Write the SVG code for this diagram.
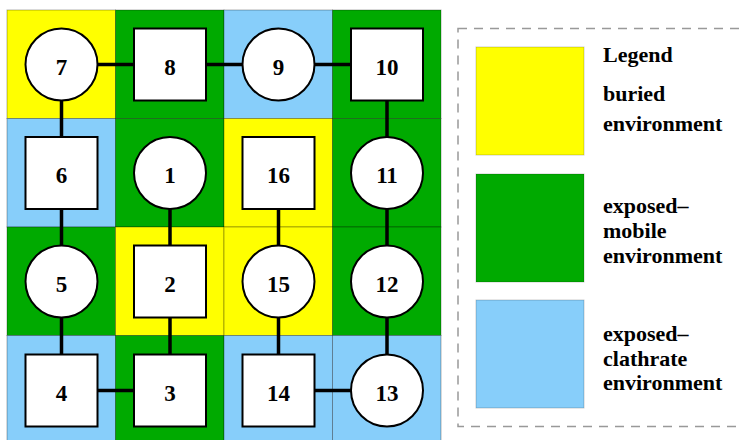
<svg xmlns="http://www.w3.org/2000/svg" width="742" height="440" viewBox="0 0 742 440">
<style>
.cell{stroke:#000;stroke-opacity:0.3;stroke-width:1}
.y{fill:#ffff00}.g{fill:#00aa00}.b{fill:#87cefa}
.node{fill:#fff;stroke:#000;stroke-width:2}
.lbl{font-weight:bold;font-size:23px;text-anchor:middle;fill:#000}
.leg{font-weight:bold;font-size:22px;fill:#000}
.edge{stroke:#000;stroke-width:3.5;fill:none}
.sw{stroke:#000;stroke-opacity:0.2;stroke-width:1}
</style>
<rect width="742" height="440" fill="#fff"/>
<g id="grid">
<rect class="cell y" x="7" y="10" width="108.5" height="108.5"/>
<rect class="cell g" x="115.5" y="10" width="108.5" height="108.5"/>
<rect class="cell b" x="224" y="10" width="108.5" height="108.5"/>
<rect class="cell g" x="332.5" y="10" width="108.5" height="108.5"/>
<rect class="cell b" x="7" y="118.5" width="108.5" height="108.5"/>
<rect class="cell g" x="115.5" y="118.5" width="108.5" height="108.5"/>
<rect class="cell y" x="224" y="118.5" width="108.5" height="108.5"/>
<rect class="cell g" x="332.5" y="118.5" width="108.5" height="108.5"/>
<rect class="cell g" x="7" y="227" width="108.5" height="108.5"/>
<rect class="cell y" x="115.5" y="227" width="108.5" height="108.5"/>
<rect class="cell y" x="224" y="227" width="108.5" height="108.5"/>
<rect class="cell g" x="332.5" y="227" width="108.5" height="108.5"/>
<rect class="cell b" x="7" y="335.5" width="108.5" height="108.5"/>
<rect class="cell g" x="115.5" y="335.5" width="108.5" height="108.5"/>
<rect class="cell b" x="224" y="335.5" width="108.5" height="108.5"/>
<rect class="cell b" x="332.5" y="335.5" width="108.5" height="108.5"/>
</g>
<g id="connectors">
<path class="edge" d="M61.5 64.5H387"/>
<path class="edge" d="M61.5 64.5V390.5H170V173"/>
<path class="edge" d="M387 64.5V390.5H278.5V173"/>
</g>
<g id="nodes" font-family="Liberation Serif, DejaVu Serif, serif">
<g id="n7"><circle class="node" cx="61.5" cy="64.5" r="36"/><text class="lbl" x="61.5" y="74.5">7</text></g>
<g id="n8"><rect class="node" x="134" y="28.5" width="72" height="72"/><text class="lbl" x="170" y="74.5">8</text></g>
<g id="n9"><circle class="node" cx="278.5" cy="64.5" r="36"/><text class="lbl" x="278.5" y="74.5">9</text></g>
<g id="n10"><rect class="node" x="351" y="28.5" width="72" height="72"/><text class="lbl" x="387" y="74.5">10</text></g>
<g id="n6"><rect class="node" x="25.5" y="137" width="72" height="72"/><text class="lbl" x="61.5" y="183">6</text></g>
<g id="n1"><circle class="node" cx="170" cy="173" r="36"/><text class="lbl" x="170" y="183">1</text></g>
<g id="n16"><rect class="node" x="242.5" y="137" width="72" height="72"/><text class="lbl" x="278.5" y="183">16</text></g>
<g id="n11"><circle class="node" cx="387" cy="173" r="36"/><text class="lbl" x="387" y="183">11</text></g>
<g id="n5"><circle class="node" cx="61.5" cy="281.5" r="36"/><text class="lbl" x="61.5" y="291.5">5</text></g>
<g id="n2"><rect class="node" x="134" y="245.5" width="72" height="72"/><text class="lbl" x="170" y="291.5">2</text></g>
<g id="n15"><circle class="node" cx="278.5" cy="281.5" r="36"/><text class="lbl" x="278.5" y="291.5">15</text></g>
<g id="n12"><circle class="node" cx="387" cy="281.5" r="36"/><text class="lbl" x="387" y="291.5">12</text></g>
<g id="n4"><rect class="node" x="25.5" y="354.5" width="72" height="72"/><text class="lbl" x="61.5" y="400.5">4</text></g>
<g id="n3"><rect class="node" x="134" y="354.5" width="72" height="72"/><text class="lbl" x="170" y="400.5">3</text></g>
<g id="n14"><rect class="node" x="242.5" y="354.5" width="72" height="72"/><text class="lbl" x="278.5" y="400.5">14</text></g>
<g id="n13"><circle class="node" cx="387" cy="390.5" r="36"/><text class="lbl" x="387" y="400.5">13</text></g>
</g>
<g id="legend" font-family="Liberation Serif, DejaVu Serif, serif">
<rect x="458" y="28.5" width="300" height="398" fill="none" stroke="#999" stroke-width="1.5" stroke-dasharray="9 7"/>
<rect class="sw y" x="476" y="47" width="108" height="108"/>
<rect class="sw g" x="476" y="174" width="108" height="108"/>
<rect class="sw b" x="476" y="300" width="108" height="108"/>
<text class="leg" x="603" y="62">Legend</text>
<text class="leg" x="603" y="101">buried</text>
<text class="leg" x="603" y="131">environment</text>
<text class="leg" x="603" y="213">exposed–</text>
<text class="leg" x="603" y="238">mobile</text>
<text class="leg" x="603" y="263">environment</text>
<text class="leg" x="603" y="341">exposed–</text>
<text class="leg" x="603" y="366">clathrate</text>
<text class="leg" x="603" y="390">environment</text>
</g>
</svg>
